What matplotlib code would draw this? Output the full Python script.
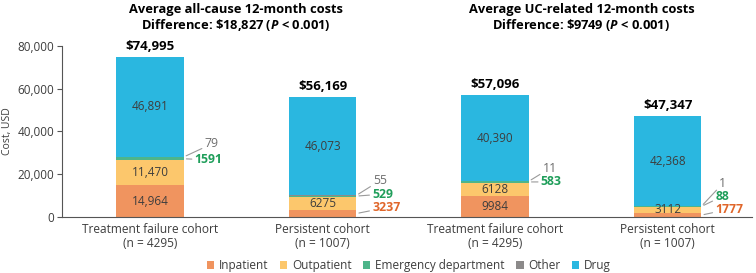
import numpy as np
import matplotlib.pyplot as plt

plt.rcParams['font.family'] = ['Open Sans', 'DejaVu Sans']
plt.rcParams['mathtext.fontset'] = 'custom'
plt.rcParams['mathtext.bfit'] = 'Open Sans:bold:italic'

# cohort cost data (USD)
cohorts = ['Treatment failure cohort\n(n = 4295)', 'Persistent cohort\n(n = 1007)',
           'Treatment failure cohort\n(n = 4295)', 'Persistent cohort\n(n = 1007)']
totals = ['$74,995', '$56,169', '$57,096', '$47,347']
inpatient = [14964, 3237, 9984, 1777]
outpatient = [11470, 6275, 6128, 3112]
emergency = [1591, 529, 583, 88]
other = [79, 55, 11, 1]
drug = [46891, 46073, 40390, 42368]

panel_titles = ['Average all-cause 12-month costs\nDifference: \\$18,827 ($\\mathbfit{P}$ < 0.001)',
                'Average UC-related 12-month costs\nDifference: \\$9749 ($\\mathbfit{P}$ < 0.001)']

colors = {'Inpatient': '#f0945f', 'Outpatient': '#fcc76c', 'Emergency department': '#4db58a',
          'Other': '#8c8a8a', 'Drug': '#2ab7e0'}
txt = '#3d3d3d'

fig = plt.figure(figsize=(7.56, 2.73), dpi=100)
ax = fig.add_axes([0.082, 0.205, 0.913, 0.627])

x = np.arange(len(cohorts))
w = 0.39
series = [('Inpatient', inpatient), ('Outpatient', outpatient),
          ('Emergency department', emergency), ('Other', other), ('Drug', drug)]
bottom = np.zeros(len(x))
bottoms = {}
for name, vals in series:
    vals = np.array(vals, dtype=float)
    ax.bar(x, vals, w, bottom=bottom, color=colors[name], label=name)
    bottoms[name] = bottom.copy()
    bottom = bottom + vals

# labels inside segments
inside = {'Drug': [0, 1, 2, 3], 'Outpatient': [0, 1, 2, 3], 'Inpatient': [0, 2]}
vals_by = dict(series)
for name, idx in inside.items():
    for i in idx:
        v = vals_by[name][i]
        s = f'{v:,}' if v >= 10000 else str(v)
        ax.text(x[i], bottoms[name][i] + v / 2, s, ha='center', va='center',
                fontsize=8.5, color=txt)

# totals on top
for i in x:
    ax.annotate(totals[i], (x[i], bottom[i]), xytext=(0, 4), textcoords='offset pixels',
                ha='center', va='bottom', fontsize=9.5, fontweight='bold', color='black')

# side labels with leader lines: (bar, series, offset px, colour, bold)
side = [(0, 'Other', (21, 13), '#6e6e6e', False), (0, 'Emergency department', (11, -1), '#1f9e5a', True),
        (1, 'Other', (17, 15), '#6e6e6e', False), (1, 'Emergency department', (16, 2), '#1f9e5a', True),
        (1, 'Inpatient', (16, 6), '#e0662a', True),
        (2, 'Other', (14, 13), '#6e6e6e', False), (2, 'Emergency department', (12, 0), '#1f9e5a', True),
        (3, 'Other', (18, 23), '#6e6e6e', False), (3, 'Emergency department', (14, 10), '#1f9e5a', True),
        (3, 'Inpatient', (14, 6), '#e0662a', True)]
for i, name, off, c, bold in side:
    v = vals_by[name][i]
    yy = bottoms[name][i] + v / 2
    ax.annotate(str(v), (x[i] + w / 2, yy), xytext=off, textcoords='offset pixels',
                ha='left', va='center', fontsize=8.8, color=c,
                fontweight='bold' if bold else 'normal',
                arrowprops=dict(arrowstyle='-', color='#9a9a9a', lw=0.8,
                                shrinkA=0, shrinkB=2))

ax.set_xlim(-0.51, 3.49)
ax.set_ylim(0, 80000)
ax.set_xticks(x)
ax.set_xticklabels(cohorts, fontsize=8.6, color=txt, linespacing=1.15)
ax.tick_params(axis='x', length=0, pad=4)
ax.set_yticks([0, 20000, 40000, 60000, 80000])
ax.set_yticklabels(['0', '20,000', '40,000', '60,000', '80,000'], fontsize=8.5, color=txt)
ax.tick_params(axis='y', length=3.5, color='#555555', pad=2)
ax.set_ylabel('Cost, USD', fontsize=7.5, color=txt, labelpad=3)
for s in ['top', 'right']:
    ax.spines[s].set_visible(False)
for s in ['left', 'bottom']:
    ax.spines[s].set_color('#555555')

for j, t in enumerate(panel_titles):
    xc = (x[2 * j] + x[2 * j + 1]) / 2
    ax.text(xc, 1.075, t, transform=ax.get_xaxis_transform(), ha='center', va='bottom',
            fontsize=9.3, fontweight='bold', color='black', linespacing=1.05)

h, l = ax.get_legend_handles_labels()
fig.legend(h, l, loc='lower center', bbox_to_anchor=(0.541, -0.035), ncol=5, frameon=False,
           fontsize=8.5, handlelength=0.6, handleheight=0.6, handletextpad=0.4,
           columnspacing=1.0, labelcolor=txt)

fig.savefig('out.png', dpi=100)
